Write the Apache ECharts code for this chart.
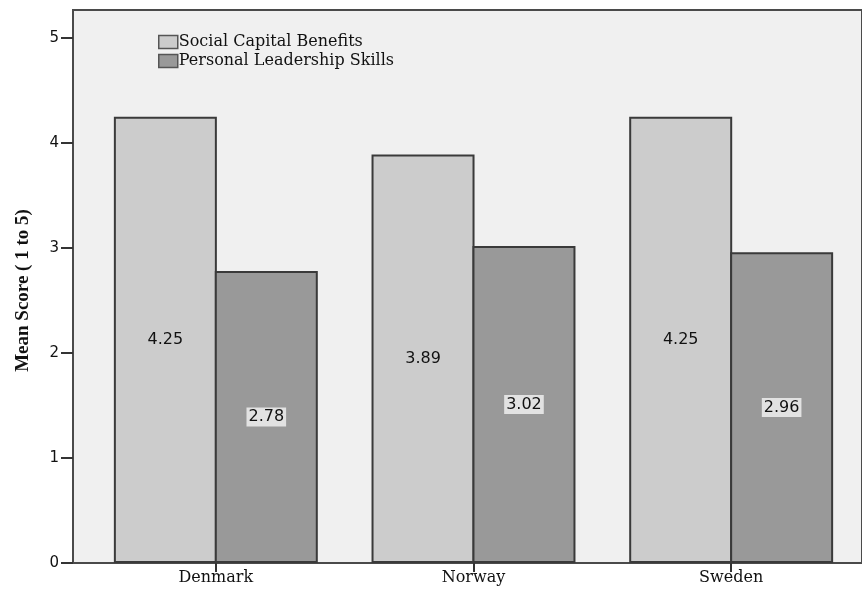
<!DOCTYPE html>
<html>
<head>
<meta charset="utf-8">
<script src="https://cdn.jsdelivr.net/npm/echarts@6/dist/echarts.min.js"></script>
<style>html,body{margin:0;padding:0;background:#fff;}#c{width:862px;height:590px;}</style>
</head>
<body>
<div id="c"></div>
<script>
const categories = ['Denmark', 'Norway', 'Sweden'];
const socialCapital = [4.25, 3.89, 4.25];
const leadership = [2.78, 3.02, 2.96];
const seriesNames = ['Social Capital Benefits', 'Personal Leadership Skills'];
const yTicks = { min: 0, max: 5, interval: 1 };
const yTitle = 'Mean Score ( 1 to 5)';

const chart = echarts.init(document.getElementById('c'));
const serif = 'DejaVu Serif';
const option = {
  animation: false,
  backgroundColor: '#ffffff',
  grid: [
    { left: 73, top: 10, right: -4, bottom: 27, show: true, backgroundColor: '#f0f0f0', borderColor: '#4a4a4a', borderWidth: 2, z: 0 },
    { left: 87, top: 38, right: 2, bottom: 27 }
  ],
  legend: {
    orient: 'vertical', left: 153, top: 29, itemWidth: 19, itemHeight: 13, itemGap: 3, icon: 'rect',
    data: seriesNames,
    itemStyle: { borderColor: '#555', borderWidth: 1.5 },
    textStyle: { fontFamily: serif, fontSize: 16, color: '#111', padding: [0, 0, 0, -4] }
  },
  xAxis: [
    { gridIndex: 0, type: 'value', show: false, min: 0, max: 1 },
    {
      gridIndex: 1, type: 'category', data: categories,
      axisLine: { show: false },
      axisTick: { show: true, alignWithLabel: true, length: 9, lineStyle: { color: '#333', width: 2 } },
      axisLabel: { fontFamily: serif, fontSize: 16, color: '#111', margin: 7 }
    }
  ],
  yAxis: [
    { gridIndex: 0, type: 'value', show: false, min: 0, max: 1 },
    {
      gridIndex: 1, type: 'value', min: yTicks.min, max: yTicks.max, interval: yTicks.interval,
      offset: 14,
      name: yTitle, nameLocation: 'middle', nameGap: 40,
      nameTextStyle: { fontFamily: 'Liberation Serif', fontWeight: 'bold', fontSize: 19, color: '#111', padding: [0, 0, 0, 20] },
      axisLine: { show: false },
      axisTick: { show: true, length: 12, lineStyle: { color: '#333', width: 2 } },
      axisLabel: { fontFamily: 'DejaVu Sans', fontSize: 15, color: '#111', margin: 14 },
      splitLine: { show: false }
    }
  ],
  series: [
    {
      name: seriesNames[0], type: 'bar', xAxisIndex: 1, yAxisIndex: 1,
      data: socialCapital, barWidth: 103, barGap: '-2%',
      itemStyle: { color: '#cccccc', borderColor: '#3a3a3a', borderWidth: 2 },
      label: { show: true, position: 'inside', fontFamily: 'DejaVu Sans', fontSize: 16, color: '#111', formatter: p => p.value.toFixed(2) }
    },
    {
      name: seriesNames[1], type: 'bar', xAxisIndex: 1, yAxisIndex: 1,
      data: leadership, barWidth: 103, barGap: '-2%',
      itemStyle: { color: '#999999', borderColor: '#3a3a3a', borderWidth: 2 },
      label: { show: true, position: 'inside', fontFamily: 'DejaVu Sans', fontSize: 16, color: '#111', backgroundColor: '#e2e2e2', padding: [2, 2, 1, 2], formatter: p => p.value.toFixed(2) }
    }
  ]
};
chart.setOption(option);
</script>
</body>
</html>
